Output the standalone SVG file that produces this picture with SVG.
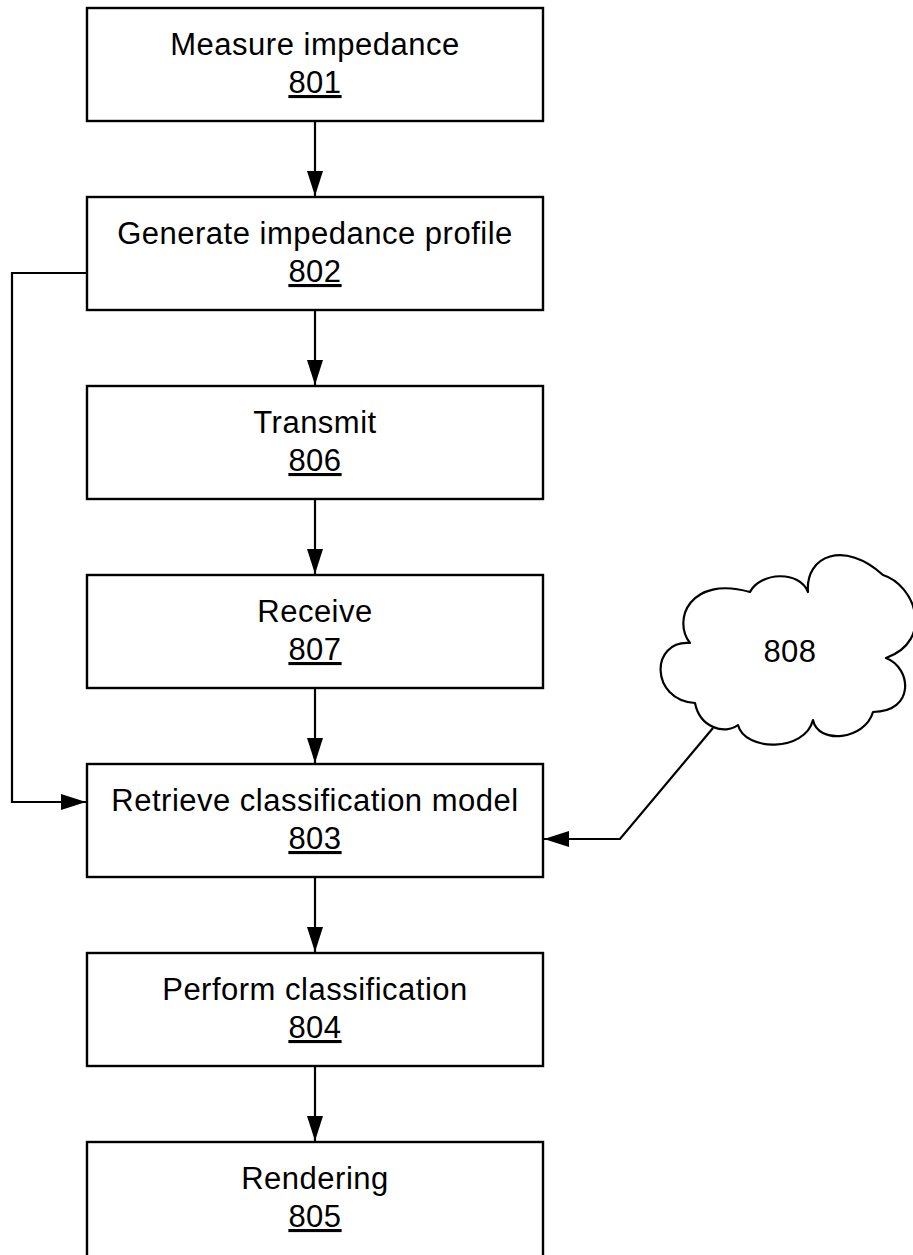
<svg xmlns="http://www.w3.org/2000/svg" width="913" height="1255" viewBox="0 0 913 1255">
  <style>
    .box { fill: #ffffff; stroke: #000000; stroke-width: 2.4; }
    .cloud { fill: #ffffff; stroke: #000000; stroke-width: 2.2; stroke-linejoin: round; }
    .edge { fill: none; stroke: #000000; stroke-width: 2.2; }
    .label { font-family: "Liberation Sans", Arial, sans-serif; font-size: 31px; letter-spacing: 0.5px; fill: #000000; text-anchor: middle; }
    .ref { text-decoration: underline; }
  </style>
  <defs>
    <marker id="arrow" markerUnits="userSpaceOnUse" markerWidth="26" markerHeight="18" refX="25" refY="8" orient="auto">
      <path d="M0,0 L25,8 L0,16 Z" fill="#000000"/>
    </marker>
  </defs>
  <rect width="913" height="1255" fill="#ffffff"/>

  <g id="connectors">
    <line class="edge" x1="315" y1="121" x2="315" y2="196" marker-end="url(#arrow)"/>
    <line class="edge" x1="315" y1="310" x2="315" y2="385" marker-end="url(#arrow)"/>
    <line class="edge" x1="315" y1="499" x2="315" y2="574" marker-end="url(#arrow)"/>
    <line class="edge" x1="315" y1="688" x2="315" y2="763" marker-end="url(#arrow)"/>
    <line class="edge" x1="315" y1="877" x2="315" y2="952" marker-end="url(#arrow)"/>
    <line class="edge" x1="315" y1="1066" x2="315" y2="1141" marker-end="url(#arrow)"/>
    <polyline class="edge" points="87,273 12,273 12,802 86,802" marker-end="url(#arrow)"/>
    <polyline class="edge" points="713,728 620,839 544,839" marker-end="url(#arrow)"/>
  </g>

  <g id="node-801">
    <rect class="box" x="87" y="8" width="456" height="113"/>
    <text class="label" x="315" y="55">Measure impedance</text>
    <text class="label ref" x="315" y="93">801</text>
  </g>
  <g id="node-802">
    <rect class="box" x="87" y="197" width="456" height="113"/>
    <text class="label" x="315" y="244">Generate impedance profile</text>
    <text class="label ref" x="315" y="282">802</text>
  </g>
  <g id="node-806">
    <rect class="box" x="87" y="386" width="456" height="113"/>
    <text class="label" x="315" y="433">Transmit</text>
    <text class="label ref" x="315" y="471">806</text>
  </g>
  <g id="node-807">
    <rect class="box" x="87" y="575" width="456" height="113"/>
    <text class="label" x="315" y="622">Receive</text>
    <text class="label ref" x="315" y="660">807</text>
  </g>
  <g id="node-803">
    <rect class="box" x="87" y="764" width="456" height="113"/>
    <text class="label" x="315" y="811">Retrieve classification model</text>
    <text class="label ref" x="315" y="849">803</text>
  </g>
  <g id="node-804">
    <rect class="box" x="87" y="953" width="456" height="113"/>
    <text class="label" x="315" y="1000">Perform classification</text>
    <text class="label ref" x="315" y="1038">804</text>
  </g>
  <g id="node-805">
    <rect class="box" x="87" y="1142" width="456" height="116"/>
    <text class="label" x="315" y="1189">Rendering</text>
    <text class="label ref" x="315" y="1227">805</text>
  </g>

  <g id="node-808">
    <path class="cloud" d="M808,592
      C805,555 845,540 883,575
      C915,585 935,640 886,658
      C912,668 915,712 873,712
      C865,740 818,745 813,720
      C805,752 745,752 738,725
      C725,735 700,728 695,703
      C650,700 650,640 690,643
      C672,620 690,575 750,592
      C760,572 800,570 808,592 Z"/>
    <text class="label" x="790" y="662">808</text>
  </g>
</svg>
